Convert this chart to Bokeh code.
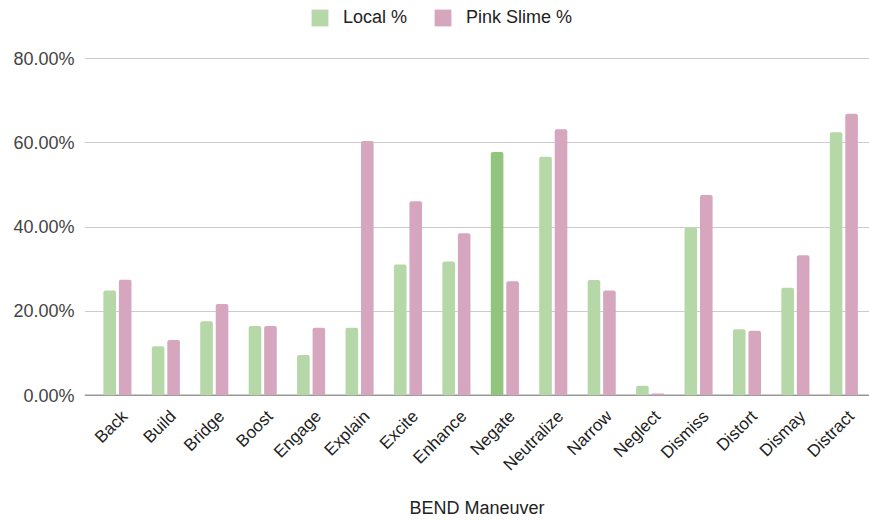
from bokeh.plotting import figure
from bokeh.models import (ColumnDataSource, Range1d, FixedTicker, PrintfTickFormatter,
                          Legend, LegendItem, Span)
from bokeh.embed import file_html
from bokeh.resources import INLINE

categories = ["Back", "Build", "Bridge", "Boost", "Engage", "Explain", "Excite", "Enhance",
              "Negate", "Neutralize", "Narrow", "Neglect", "Dismiss", "Distort", "Dismay", "Distract"]
local_pct = [24.9, 11.7, 17.6, 16.5, 9.6, 16.1, 31.1, 31.8,
             57.8, 56.7, 27.4, 2.3, 39.9, 15.7, 25.6, 62.5]
pink_pct = [27.5, 13.2, 21.7, 16.5, 16.1, 60.4, 46.1, 38.5,
            27.1, 63.2, 24.9, 0.5, 47.6, 15.4, 33.3, 66.9]
highlighted = "Negate"
y_ticks = [0, 20, 40, 60, 80]

GREEN = "#b6d7a8"
GREEN_DARK = "#93c47d"
PINK = "#d5a6bd"
FONT = "Liberation Sans"

idx = list(range(len(categories)))
off = 0.16
bw = 0.26
lab_shift = 0.15
src_local = ColumnDataSource(dict(
    x=[i - off for i in idx], top=local_pct,
    color=[GREEN_DARK if c == highlighted else GREEN for c in categories]))
src_pink = ColumnDataSource(dict(x=[i + off for i in idx], top=pink_pct))

p = figure(width=869, height=521, output_backend="svg", toolbar_location=None,
           x_range=Range1d(-0.68, 15.53), y_range=Range1d(0, 93.77),
           min_border_left=84, min_border_right=0, min_border_top=0, min_border_bottom=126)
p.outline_line_color = None
p.background_fill_color = "white"
p.border_fill_color = "white"

r_local = p.vbar(x="x", top="top", width=bw, bottom=0, source=src_local,
                 fill_color="color", line_color=None, border_radius=2)
r_pink = p.vbar(x="x", top="top", width=bw, bottom=0, source=src_pink,
                fill_color=PINK, line_color=None, border_radius=2)

base = Span(location=0, dimension="width", line_color="#333333", line_width=1.5, level="underlay")
p.add_layout(base)

# axes
tick_pos = [i + lab_shift for i in idx]
p.xaxis.ticker = FixedTicker(ticks=tick_pos)
p.xaxis.major_label_overrides = {t: c for t, c in zip(tick_pos, categories)}
p.xaxis.major_label_orientation = 0.785398
p.xaxis.major_tick_line_color = None
p.xaxis.major_tick_out = 0
p.xaxis.minor_tick_line_color = None
p.xaxis.axis_line_color = None
p.xaxis.major_label_text_font = FONT
p.xaxis.major_label_text_font_size = "17px"
p.xaxis.major_label_text_color = "#222222"
p.xaxis.major_label_standoff = 18
p.xaxis.axis_label = "BEND Maneuver"
p.xaxis.axis_label_text_font = FONT
p.xaxis.axis_label_text_font_size = "18px"
p.xaxis.axis_label_text_font_style = "normal"
p.xaxis.axis_label_text_color = "#222222"
p.xaxis.axis_label_standoff = 14

p.yaxis.ticker = FixedTicker(ticks=y_ticks)
p.yaxis.formatter = PrintfTickFormatter(format="%.2f%%")
p.yaxis.axis_line_color = None
p.yaxis.major_tick_line_color = None
p.yaxis.major_tick_out = 0
p.yaxis.minor_tick_line_color = None
p.yaxis.major_label_text_font = FONT
p.yaxis.major_label_text_font_size = "18px"
p.yaxis.major_label_text_color = "#444444"
p.yaxis.major_label_standoff = 10

p.xgrid.grid_line_color = None
p.ygrid.ticker = FixedTicker(ticks=[t for t in y_ticks if t > 0])
p.ygrid.grid_line_color = "#cccccc"
p.ygrid.grid_line_width = 1

legend = Legend(items=[LegendItem(label="Local %", renderers=[r_local], index=0),
                       LegendItem(label="Pink Slime %", renderers=[r_pink], index=0)],
                orientation="horizontal", location=(225, 367),
                padding=0, margin=0, spacing=25, label_standoff=13,
                glyph_width=21, glyph_height=21, label_height=21,
                border_line_color=None, background_fill_alpha=0,
                label_text_font=FONT, label_text_font_size="18px", label_text_color="#222222")
p.add_layout(legend)

open("out.html", "w").write(file_html(p, INLINE))
